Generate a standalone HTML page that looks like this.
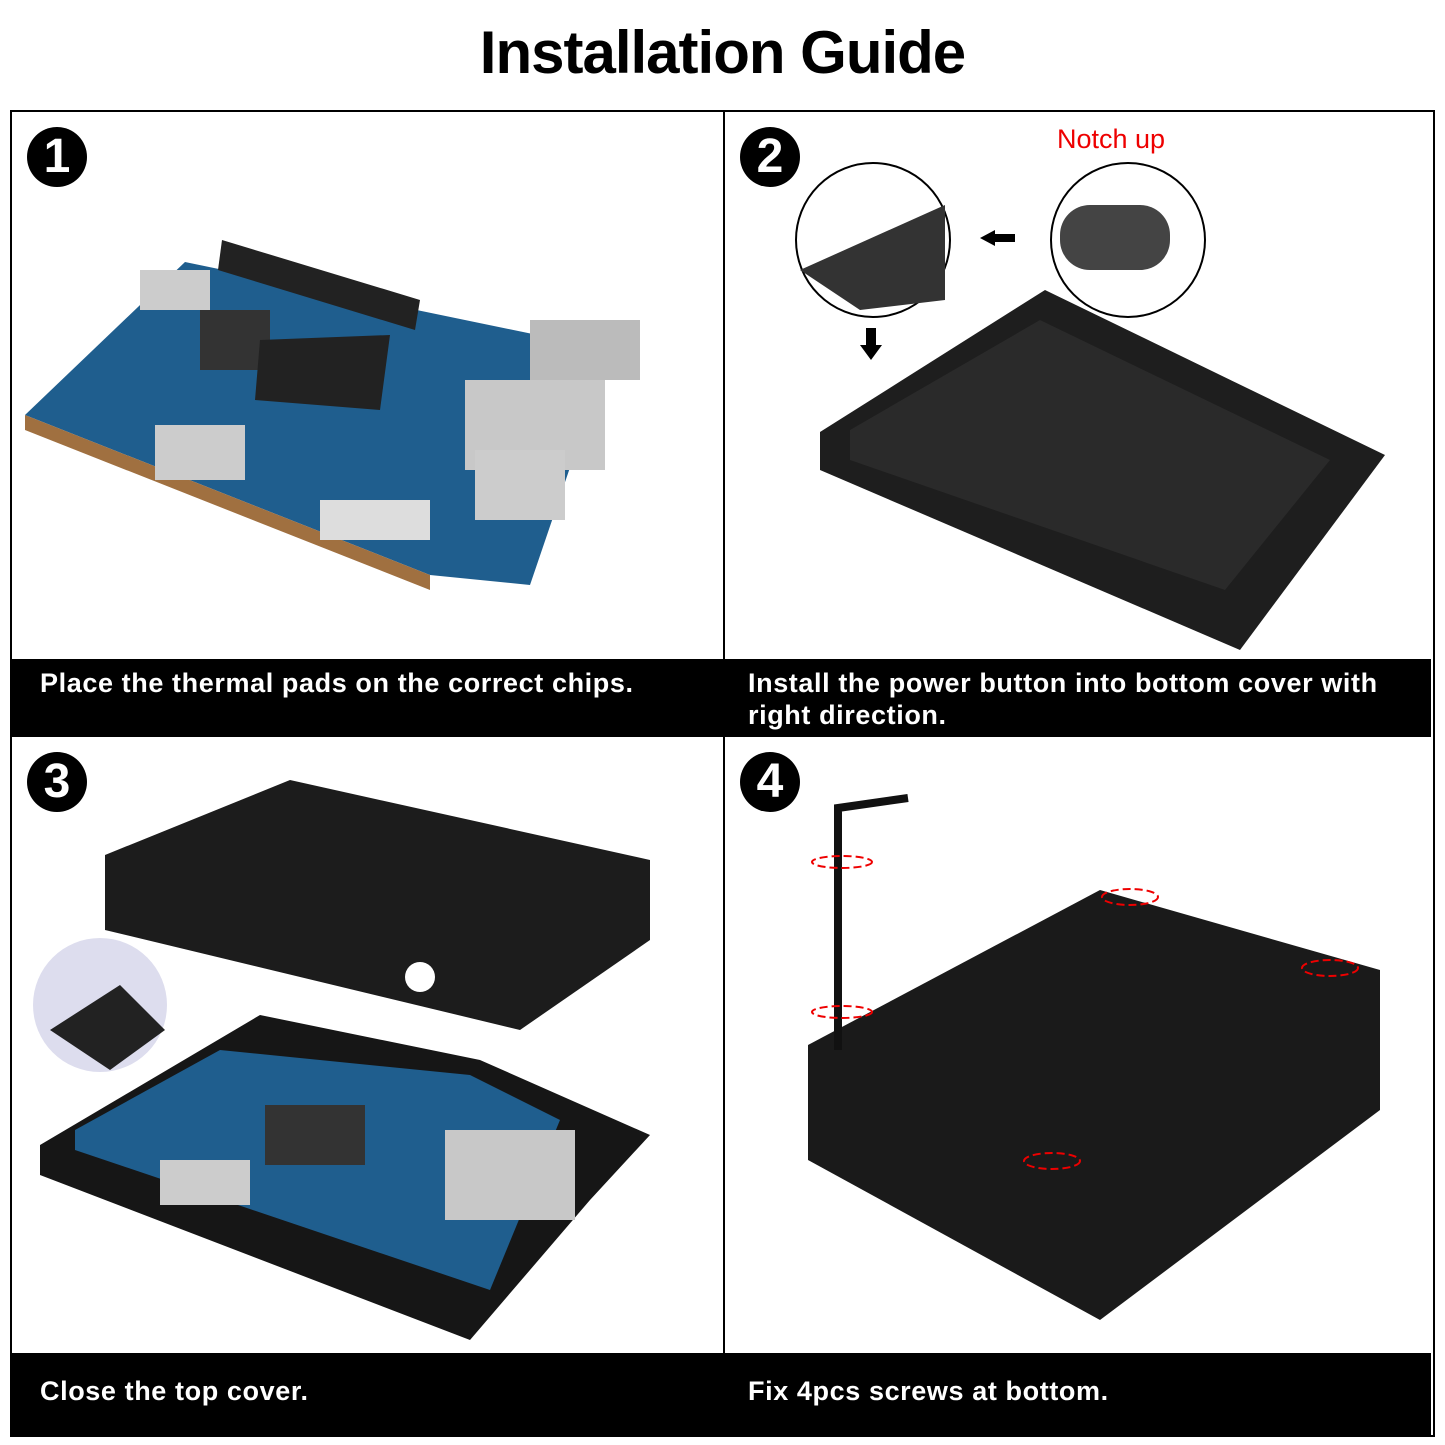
<!DOCTYPE html>
<html><head><meta charset="utf-8"><style>
body{margin:0;width:1445px;height:1445px;background:#fff;position:relative;overflow:hidden;font-family:"Liberation Sans",sans-serif}
.t{position:absolute;top:18px;left:0;width:1445px;text-align:center;font-size:60px;font-weight:bold;color:#000;letter-spacing:-1px}
.box{position:absolute;left:10px;top:110px;width:1421px;height:1323px;border:2px solid #000}
.v{position:absolute;left:723px;top:110px;width:2px;height:1325px;background:#000}
.bar{position:absolute;background:#000;color:#fff;font-size:27px;font-weight:bold;line-height:32px;letter-spacing:0.6px}
.n{position:absolute;width:60px;height:60px;border-radius:50%;background:#000;color:#fff;font-size:48px;font-weight:bold;text-align:center;line-height:60px}
svg{position:absolute;left:0;top:0}
</style></head><body>
<div class="t">Installation Guide</div>
<div class="box"></div>
<div class="v"></div>
<div class="bar" style="left:12px;top:659px;width:711px;height:78px;padding:0;"><div style="padding:8px 0 0 28px">Place the thermal pads on the correct chips.</div></div>
<div class="bar" style="left:725px;top:659px;width:706px;height:78px"><div style="padding:8px 0 0 23px;width:670px">Install the power button into bottom cover with right direction.</div></div>
<div class="bar" style="left:12px;top:1353px;width:711px;height:82px"><div style="padding:22px 0 0 28px">Close the top cover.</div></div>
<div class="bar" style="left:725px;top:1353px;width:706px;height:82px"><div style="padding:22px 0 0 23px">Fix 4pcs screws at bottom.</div></div>
<div class="n" style="left:27px;top:127px">1</div>
<div class="n" style="left:740px;top:127px">2</div>
<div class="n" style="left:27px;top:752px">3</div>
<div class="n" style="left:740px;top:752px">4</div>
<div style="position:absolute;left:1057px;top:124px;color:#e00;font-size:27px">Notch up</div>
<svg width="1445" height="1445">
<polygon points="25,415 185,262 610,350 530,585 430,575" fill="#1f5e8e"/>
<polygon points="25,415 430,575 430,590 25,430" fill="#a07040"/>
<polygon points="222,240 420,300 415,330 218,270" fill="#222"/>
<rect x="200" y="310" width="70" height="60" fill="#333"/>
<polygon points="260,340 390,335 380,410 255,400" fill="#222"/>
<rect x="530" y="320" width="110" height="60" fill="#bbb"/>
<rect x="465" y="380" width="140" height="90" fill="#c8c8c8"/>
<rect x="475" y="450" width="90" height="70" fill="#ccc"/>
<rect x="155" y="425" width="90" height="55" fill="#ccc"/>
<rect x="320" y="500" width="110" height="40" fill="#ddd"/>
<rect x="140" y="270" width="70" height="40" fill="#ccc"/>
<polygon points="820,432 1045,290 1385,455 1240,650 820,470" fill="#1e1e1e"/>
<polygon points="850,430 1040,320 1330,460 1225,590 850,460" fill="#2a2a2a"/>
<circle cx="873" cy="240" r="77" fill="#fff" stroke="#000" stroke-width="2"/>
<polygon points="800,270 945,205 945,300 860,310" fill="#333"/>
<circle cx="1128" cy="240" r="77" fill="#fff" stroke="#000" stroke-width="2"/>
<rect x="1060" y="205" width="110" height="65" rx="30" fill="#444"/>
<polygon points="980,238 995,230 995,234 1015,234 1015,242 995,242 995,246" fill="#000"/>
<polygon points="866,328 876,328 876,345 882,345 871,360 860,345 866,345" fill="#000"/>
<polygon points="105,855 290,780 650,860 650,940 520,1030 105,930" fill="#1c1c1c"/>
<circle cx="420" cy="977" r="15" fill="#fff"/>
<polygon points="40,1145 260,1015 480,1060 650,1135 590,1200 470,1340 40,1175" fill="#161616"/>
<polygon points="75,1130 220,1050 470,1075 560,1120 490,1290 75,1150" fill="#1f5e8e"/>
<rect x="265" y="1105" width="100" height="60" fill="#333"/>
<rect x="445" y="1130" width="130" height="90" fill="#c8c8c8"/>
<rect x="160" y="1160" width="90" height="45" fill="#ccc"/>
<circle cx="100" cy="1005" r="67" fill="#dde"/>
<polygon points="50,1030 120,985 165,1030 110,1070" fill="#222"/>
<polygon points="808,1045 1100,890 1380,970 1380,1110 1100,1320 808,1160" fill="#1a1a1a"/>
<path d="M838,1050 L838,808 L908,798" stroke="#111" stroke-width="8" fill="none"/>
<ellipse cx="842" cy="862" rx="30" ry="6" fill="none" stroke="#e00" stroke-width="2" stroke-dasharray="8 4"/>
<ellipse cx="842" cy="1012" rx="30" ry="6" fill="none" stroke="#e00" stroke-width="2" stroke-dasharray="8 4"/>
<ellipse cx="1130" cy="897" rx="28" ry="8" fill="none" stroke="#e00" stroke-width="2" stroke-dasharray="8 4"/>
<ellipse cx="1330" cy="968" rx="28" ry="8" fill="none" stroke="#e00" stroke-width="2" stroke-dasharray="8 4"/>
<ellipse cx="1052" cy="1161" rx="28" ry="8" fill="none" stroke="#e00" stroke-width="2" stroke-dasharray="8 4"/>
</svg>
</body></html>
